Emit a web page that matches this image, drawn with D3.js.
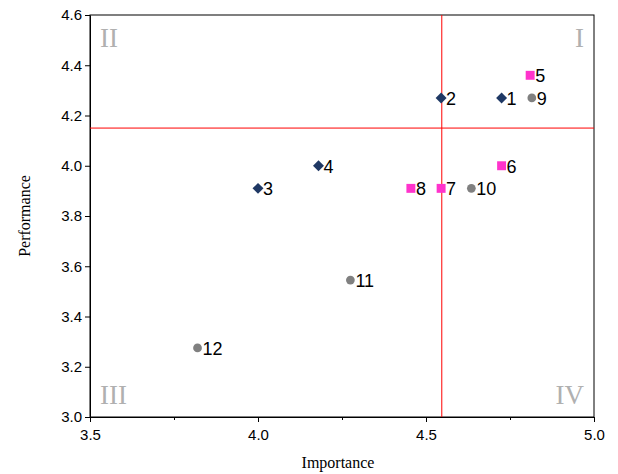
<!DOCTYPE html>
<html><head><meta charset="utf-8">
<script src="https://cdn.jsdelivr.net/npm/d3@7"></script>
<style>body{margin:0;background:#fff}</style>
</head><body><svg id="c" width="618" height="474"></svg>
<script>
const labels = ["1","2","3","4","5","6","7","8","9","10","11","12"];
const importance = [4.725,4.545,4.00,4.18,4.81,4.725,4.545,4.455,4.815,4.635,4.275,3.82];
const performance = [4.27,4.27,3.91,4.00,4.36,4.00,3.91,3.91,4.27,3.91,3.545,3.275];
const group = ["d","d","d","d","s","s","s","s","c","c","c","c"];
const xTicks = [3.5,4.0,4.5,5.0];
const yTicks = [3.0,3.2,3.4,3.6,3.8,4.0,4.2,4.4,4.6];
const meanImportance = 4.547, meanPerformance = 4.15;
const quadrants = [["I",4.97,4.55,"end"],["II",3.53,4.55,"start"],["III",3.53,3.05,"start"],["IV",4.97,3.05,"end"]];

const svg = d3.select("#c");
const L=90,R=594,T=15,B=417;
const x = d3.scaleLinear().domain([3.5,5.0]).range([L,R]);
const y = d3.scaleLinear().domain([3.0,4.6]).range([B,T]);

svg.append("rect").attr("x",L).attr("y",T).attr("width",R-L).attr("height",B-T).attr("fill","none").attr("stroke","#000");

const xa = svg.append("g").attr("transform",`translate(0,${B})`)
  .call(d3.axisBottom(x).tickValues(xTicks).tickFormat(d3.format(".1f")).tickSize(5).tickSizeOuter(0));
svg.append("g").attr("transform",`translate(0,${B})`)
  .call(d3.axisBottom(x).tickValues([3.75,4.25,4.75]).tickFormat("").tickSize(3).tickSizeOuter(0))
  .select(".domain").remove();
const ya = svg.append("g").attr("transform",`translate(${L},0)`)
  .call(d3.axisLeft(y).tickValues(yTicks).tickFormat(d3.format(".1f")).tickSize(5).tickSizeOuter(0));
svg.selectAll(".tick text").attr("font-family","Arial, 'Liberation Sans', sans-serif").attr("font-size",15).attr("fill","#000");
xa.selectAll(".tick text").attr("dy","1.0em");

svg.append("line").attr("x1",x(meanImportance)).attr("x2",x(meanImportance)).attr("y1",T).attr("y2",B).attr("stroke","#ff0000").attr("stroke-width",1);
svg.append("line").attr("x1",L).attr("x2",R).attr("y1",y(meanPerformance)).attr("y2",y(meanPerformance)).attr("stroke","#ff0000").attr("stroke-width",1);

svg.selectAll(".q").data(quadrants).enter().append("text")
  .attr("x",d=>x(d[1])).attr("y",d=>y(d[2])).attr("text-anchor",d=>d[3])
  .attr("dominant-baseline",d=>d[2]>4?"hanging":"auto")
  .attr("font-family","'Times New Roman','Liberation Serif',serif").attr("font-size",27).attr("fill","#b0b0b0").text(d=>d[0]);

const sym = {d:d3.symbolSquare,s:d3.symbolSquare,c:d3.symbolCircle};
const rot = {d:45,s:0,c:0};
const col = {d:"#1f3864",s:"#ff33cc",c:"#808080"};
const size = {d:60,s:80,c:60};
const g = svg.append("g");
labels.forEach((lab,i)=>{
  g.append("path").attr("d",d3.symbol().type(sym[group[i]]).size(size[group[i]])())
    .attr("transform",`translate(${x(importance[i])},${y(performance[i])}) rotate(${rot[group[i]]})`).attr("fill",col[group[i]]);
  g.append("text").attr("x",x(importance[i])+5).attr("y",y(performance[i])+7)
    .attr("font-family","Arial, 'Liberation Sans', sans-serif").attr("font-size",18).attr("fill","#000").text(lab);
});

svg.append("text").attr("x",(L+R)/2-4).attr("y",468).attr("text-anchor","middle")
  .attr("font-family","'Times New Roman','Liberation Serif',serif").attr("font-size",16).text("Importance");
svg.append("text").attr("transform",`translate(30,${(T+B)/2}) rotate(-90)`).attr("text-anchor","middle")
  .attr("font-family","'Times New Roman','Liberation Serif',serif").attr("font-size",16).text("Performance");
</script></body></html>
